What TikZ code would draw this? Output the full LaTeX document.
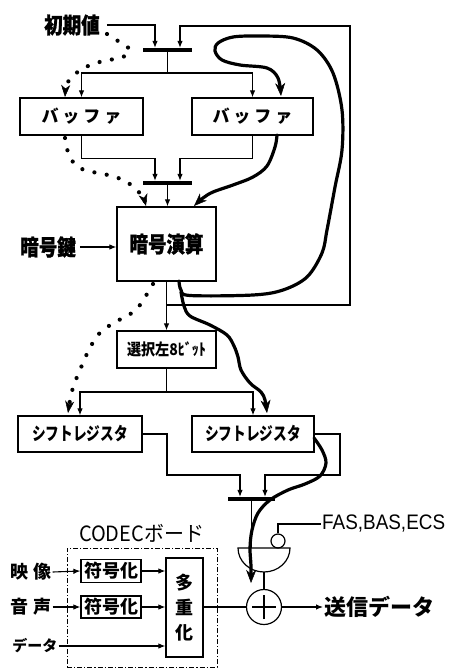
\documentclass[tikz,border=0pt]{standalone}
\usepackage{fontspec}
\setmainfont{Noto Sans CJK JP}
\newfontfamily\heavy{Noto Sans CJK JP}[FakeBold=1.2]
\newfontfamily\latsans{Liberation Sans}
\usetikzlibrary{arrows.meta}
\newcommand{\hsq}[2]{\scalebox{#1}[1]{#2}}
\begin{document}
\begin{tikzpicture}[x=1pt,y=-1pt,
  ln/.style={line width=1.1pt},
  box/.style={draw,line width=1.2pt,inner sep=0pt,rectangle},
  barnode/.style={fill=black,inner sep=0pt,minimum height=3.8pt,rectangle},
  ar/.style={ln,-{Latex[length=7pt,width=5.5pt]}},
  thk/.style={line width=3.2pt,line cap=round,line join=round,-{Stealth[length=13pt,width=10pt,inset=4pt,line width=0.5pt]}},
  dotl/.style={line width=4.2pt,line cap=round,dash pattern=on 0pt off 12.5pt,-{Stealth[length=12pt,width=9pt,inset=3.5pt,line width=0.5pt]}},
  big/.style={font=\heavy\bfseries\fontsize{22}{22}\selectfont,inner sep=1pt},
  lbl/.style={inner sep=1pt},
]
\useasboundingbox (0,0) rectangle (448,671);

% ---------- nodes ----------
\node[big] (init) at (72,25) {\hsq{0.84}{初期値}};
\node[barnode,minimum width=49pt] (bar1) at (167.5,50) {};
\node[box,minimum width=123pt,minimum height=37pt,font=\bfseries\fontsize{17}{17}\selectfont] (buf1) at (81.5,116.5)
  {バ\hspace{4pt}ッ\hspace{4pt}フ\hspace{4pt}ァ};
\node[box,minimum width=121pt,minimum height=37pt,font=\bfseries\fontsize{17}{17}\selectfont] (buf2) at (252.5,116.5)
  {バ\hspace{4pt}ッ\hspace{4pt}フ\hspace{4pt}ァ};
\node[barnode,minimum width=49pt] (bar2) at (167.5,183) {};
\node[box,minimum width=99pt,minimum height=74pt,font=\heavy\bfseries\fontsize{22}{22}\selectfont] (enc) at (166.5,244)
  {\hsq{0.84}{暗号演算}};
\node[big] (key) at (48,247) {\hsq{0.84}{暗号鍵}};
\node[box,minimum width=99pt,minimum height=37pt,font=\bfseries\fontsize{16}{16}\selectfont] (sel) at (166.5,349.5)
  {\hsq{0.88}{選択左8ﾋﾞｯﾄ}};
\node[box,minimum width=124pt,minimum height=36pt,font=\bfseries\fontsize{18}{18}\selectfont] (sr1) at (80,434)
  {\hsq{0.76}{シフトレジスタ}};
\node[box,minimum width=122pt,minimum height=36pt,font=\bfseries\fontsize{18}{18}\selectfont] (sr2) at (253,434)
  {\hsq{0.76}{シフトレジスタ}};
\node[barnode,minimum width=47pt] (bar3) at (251.5,499) {};

% gate
\coordinate (gtop) at (264,548);
\coordinate (gbot) at (264,572);
\draw[line width=1.2pt] (238,548) -- (290,548) arc[start angle=0,end angle=180,x radius=26,y radius=24] -- cycle;
\node[draw,circle,line width=1.2pt,minimum size=14pt,inner sep=0pt] (sc) at (278,541) {};
\node[anchor=west,lbl] (fas) at (321,524) {\latsans\fontsize{21}{21}\selectfont\hsq{0.9}{FAS,BAS,ECS}};

\node[draw,circle,line width=1.2pt,minimum size=35pt,inner sep=0pt] (xor) at (264,607) {};
\node[anchor=west,lbl,font=\bfseries\fontsize{22}{22}\selectfont] (out) at (323,607) {送信データ};

% CODEC board
\node[draw,line width=1pt,dash pattern=on 5pt off 2pt on 1.2pt off 2pt,minimum width=150pt,minimum height=119pt,inner sep=0pt] (board) at (142,607.5) {};
\node[lbl,font=\fontsize{21}{21}\selectfont] (cl) at (141.5,533) {\hsq{0.95}{CODECボード}};
\node[box,minimum width=60pt,minimum height=23pt,font=\bfseries\fontsize{18}{18}\selectfont] (c1) at (111,571) {符号化};
\node[box,minimum width=60pt,minimum height=22pt,font=\bfseries\fontsize{18}{18}\selectfont] (c2) at (111,607) {符号化};
\node[box,minimum width=37pt,minimum height=99pt,align=center,font=\bfseries\fontsize{18}{25}\selectfont] (mux) at (184.5,607.5)
  {多\\重\\化};
\node[lbl,font=\bfseries\fontsize{18}{18}\selectfont] (vid) at (31,572) {映\hspace{5pt}像};
\node[lbl,font=\bfseries\fontsize{18}{18}\selectfont] (aud) at (31,607) {音\hspace{5pt}声};
\node[lbl,font=\bfseries\fontsize{15}{15}\selectfont] (dat) at (35,646) {データ};

% ---------- thin connectors ----------
\draw[ar] ([xshift=6pt]init.east) -| ([xshift=-12.5pt]bar1.north);
\coordinate (fb) at (166.5,305);
\coordinate (fbR) at (350,305);
\coordinate (fbT) at (350,26);
\draw[ar] (fb) -- (fbR) -- (fbT) -| ([xshift=12.5pt]bar1.north);
\coordinate (sp1) at (167.5,73);
\draw[ln] (bar1.south) -- (sp1);
\draw[ar] (sp1) -| (buf1.north);
\draw[ar] (sp1) -| (buf2.north);
\draw[ar] (buf1.south) -- ++(0,23) -| ([xshift=-12.5pt]bar2.north);
\draw[ar] (buf2.south) -- ++(0,23) -| ([xshift=12.5pt]bar2.north);
\draw[ar] (bar2.south) -- (bar2.south |- enc.north);
\draw[ar] ([xshift=3pt]key.east) -- (key.east -| enc.west);
\draw[ar] (enc.south) -- (sel.north);
\coordinate (sp2) at (166.5,392);
\draw[ln] (sel.south) -- (sp2);
\draw[ar] (sp2) -| (sr1.north);
\draw[ar] (sp2) -| (sr2.north);
\draw[ar] (sr1.east) -| (167,475) -| ([xshift=-11.5pt]bar3.north);
\draw[ar] (sr2.east) -| (340,475) -| ([xshift=13.5pt]bar3.north);
\draw[ln] (bar3.south) -- (bar3.south |- gtop);
\draw[ln] (sc.north) |- (fas.west);
\draw[ln] (gbot) -- (xor.north);
\draw[ln] ([xshift=-12pt]xor.center) -- ([xshift=12pt]xor.center);
\draw[ln] ([yshift=-12pt]xor.center) -- ([yshift=12pt]xor.center);
\draw[ar] (xor.east) -- (out.west);
\draw[ln] (mux.east |- xor.west) -- (xor.west);
\draw[ar] (vid.east) -- (c1.west);
\draw[ar] (aud.east) -- (c2.west);
\draw[ar] (c1.east) -- (c1.east -| mux.west);
\draw[ar] (c2.east) -- (c2.east -| mux.west);
\draw[ar] (dat.east) -- (dat.east -| mux.west);

% ---------- thick curves ----------
\draw[thk] plot[smooth,tension=0.55] coordinates {(179,281) (181,290) (190,295.5) (253,295) (283,290) (307,277) (322,253) (327,230) (335,187) (342,150) (342,110) (333,73) (317,50) (293,38) (260,36) (233,37) (218,43) (215,51) (222,60) (240,65) (267,68) (278,78) (281,96)};
\draw[thk] plot[smooth,tension=0.55] coordinates {(181,292) (184,306) (190,316) (210,325) (227,335) (234,346) (238,357) (241,370) (250,383) (261,392) (265,400) (267,413)};
\draw[thk] plot[smooth,tension=0.55] coordinates {(277,135) (275,147) (267,166) (253,177) (233,185) (213,192) (203,198) (194,206)};
\draw[thk] plot[smooth,tension=0.55] coordinates {(314,438) (322,450) (326,463) (320,476) (305,484) (288,490) (270,500) (258,513) (252,530) (250,548) (251,566) (251,583)};

% ---------- dotted curves ----------
\draw[dotl] plot[smooth,tension=0.6] coordinates {(107,34) (121,43) (130,50) (123,57) (109,60) (96,63) (84,68) (74,75) (67,84) (65,97)};
\draw[dotl] plot[smooth,tension=0.6] coordinates {(65,138) (67,149) (73,162) (84,170) (98,173) (112,176) (125,181) (136,189) (143,198) (146,206)};
\draw[dotl] plot[smooth,tension=0.6] coordinates {(153,284) (147,294) (140,305) (129,315) (117,321) (106,328) (97,336) (91,346) (85,358) (80,370) (75,382) (71,395) (68,413)};
\end{tikzpicture}
\end{document}
